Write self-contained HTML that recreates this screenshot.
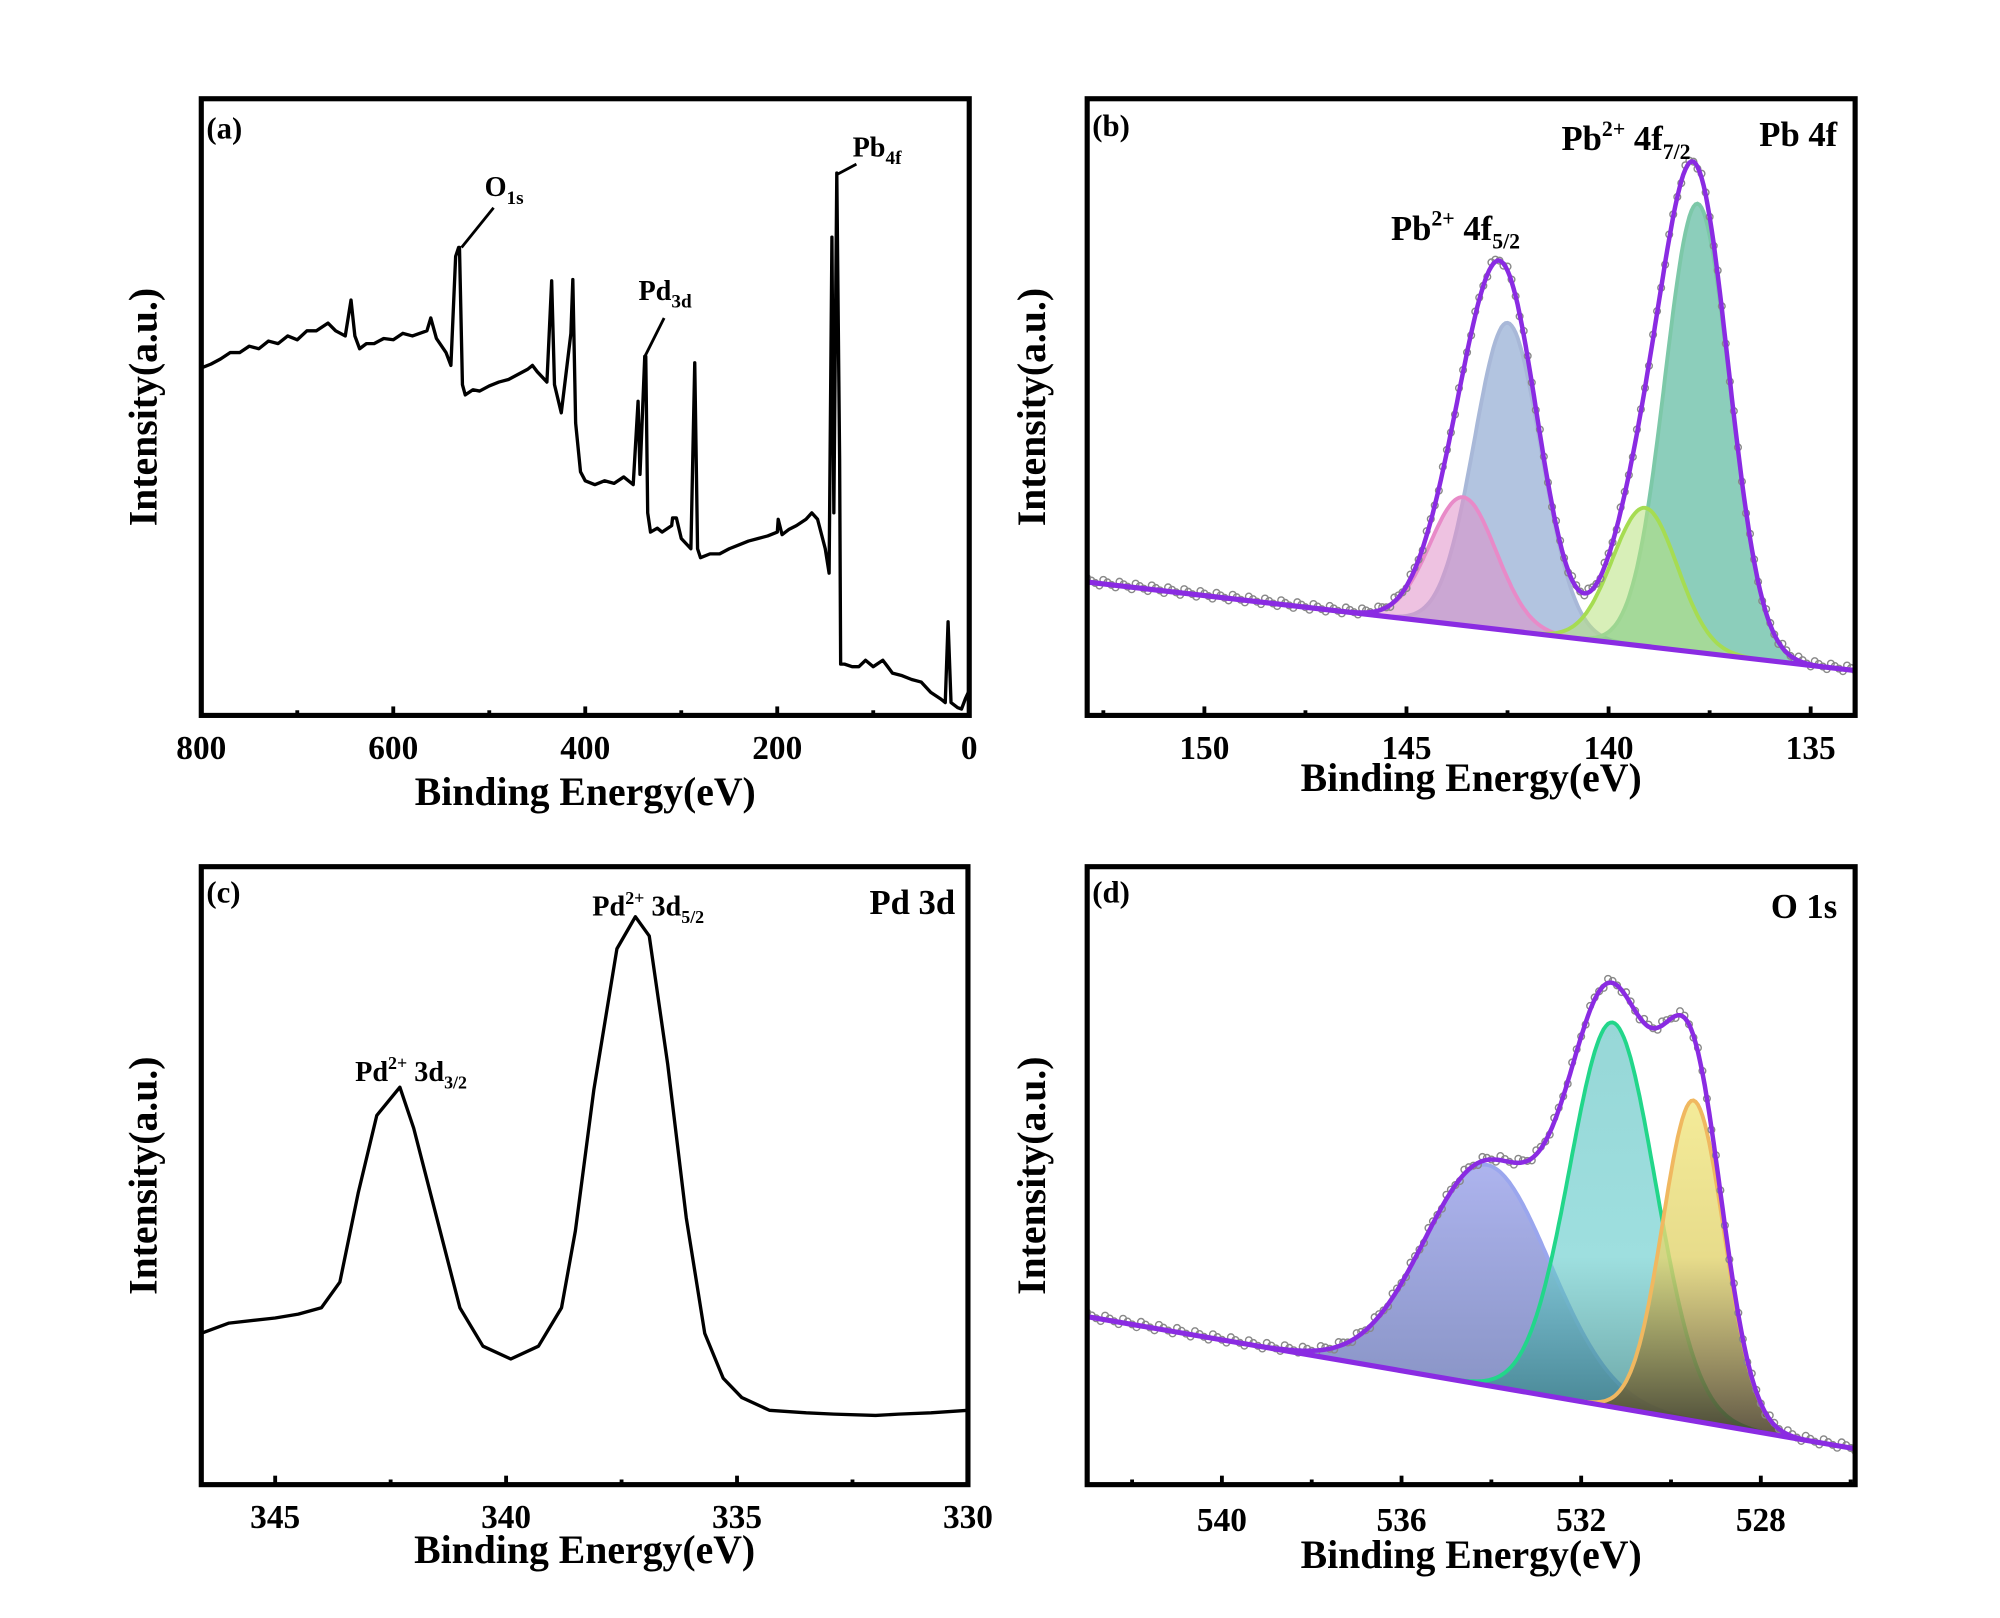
<!DOCTYPE html>
<html><head><meta charset="utf-8"><style>
html,body{margin:0;padding:0;background:#fff}
svg{display:block}
text{font-family:"Liberation Serif",serif;font-weight:bold;fill:#000}
</style></head><body>
<svg id="fig" width="2000" height="1618" viewBox="0 0 1560 1262" xmlns="http://www.w3.org/2000/svg">
<defs>
<linearGradient id="gBlue" x1="0" y1="0" x2="0" y2="1"><stop offset="0" stop-color="#9aa2ea" stop-opacity="0.95"/><stop offset="1" stop-color="#5a6aa8" stop-opacity="0.9"/></linearGradient>
<linearGradient id="gTeal" x1="0" y1="0" x2="0" y2="1"><stop offset="0" stop-color="#66c4c4" stop-opacity="0.85"/><stop offset="0.55" stop-color="#70d0d0" stop-opacity="0.85"/><stop offset="1" stop-color="#1f6f70" stop-opacity="0.9"/></linearGradient>
<linearGradient id="gYel" x1="0" y1="0" x2="0" y2="1"><stop offset="0" stop-color="#f2e888" stop-opacity="0.95"/><stop offset="0.45" stop-color="#e2d470" stop-opacity="0.9"/><stop offset="1" stop-color="#3a3020" stop-opacity="0.95"/></linearGradient>
</defs>
</svg>
<script>
// ---------- panel (a) survey ----------
const surveyE=[800,790,780,770,760,750,740,730,720,710,700,690,680,668,660,650,644,640,635,628,620,610,600,590,580,565,561,555,545,540,535,532,531,528,525,517,510,500,490,480,470,460,455,450,440,435,432,425,415,413,410,405,400,390,380,370,360,350,345,343,338,337,335,332,325,320,310,309,305,300,290,286,283,280,270,260,250,240,230,220,210,200,199,195,188,180,170,164,158,150,146,143,141,138,135,134,130,122,115,108,100,90,85,80,70,60,50,40,30,25,22,19,12,8,4,1];
const surveyI=[271,274,278,283,283,288,286,292,290,296,293,300,300,306,300,296,324,296,286,290,290,294,293,298,296,300,310,294,283,273,358,365,365,258,250,254,253,257,260,262,266,270,273,268,260,339,258,236,298,340,228,190,183,180,183,181,186,180,245,188,280,280,158,143,146,143,148,154,154,138,130,275,130,123,126,126,130,133,136,138,140,143,153,141,145,148,153,158,153,130,111,373,158,423,200,40,40,38,38,43,38,43,38,33,31,28,26,18,13,10,73,10,6,5,13,18];
// ---------- panel (c) Pd 3d ----------
const pdE=[346.6,346,345,344.5,344,343.6,343.2,342.8,342.3,342,341.5,341,340.5,339.9,339.3,338.8,338.5,338.1,337.6,337.2,336.9,336.5,336.1,335.7,335.3,334.9,334.3,333.5,332.9,332,331.5,330.8,330];
const pdI=[118,126,130,133,138,158,228,288,310,278,208,138,108,98,108,138,198,308,418,443,428,328,208,118,83,68,58,56,55,54,55,56,58];
// ---------- panel (b) Pb 4f fit ----------
const pbCenters=[142.5,143.6,137.8,139.1];
const pbHeights=[240,100,350,108];
const pbSigmas=[0.82,0.82,0.8,0.8];
const pbBase=[104,35];
// ---------- panel (d) O 1s fit ----------
const oCenters=[534.1,531.3,529.5];
const oHeights=[172,300,250];
const oSigmas=[1.4,0.95,0.68];
const oBase=[131,28];

const svg=document.getElementById('fig');
const NS='http://www.w3.org/2000/svg';
function mk(tag,attrs,parent){const e=document.createElementNS(NS,tag);for(const k in attrs)e.setAttribute(k,attrs[k]);(parent||svg).appendChild(e);return e;}
function txt(parent,x,y,str,size,anchor){const t=mk('text',{x:x,y:y,'font-size':size,'text-anchor':anchor||'start'},parent);t.innerHTML=str;return t;}

function panel(name,L,T,R,B,E0,E1,major,minor,tickFmt,ytitleX,xtitleY,tickLabelY){
  const g=mk('g',{});
  
  
  const sx=e=>L+(E0-e)/(E0-E1)*(R-L);
  const sy=v=>B-v;
  const clipId='clip-'+name;
  const cp=mk('clipPath',{id:clipId},g);mk('rect',{x:L,y:T,width:R-L,height:B-T},cp);
  const plot=mk('g',{'clip-path':'url(#'+clipId+')'},g);
  
  
  const ax=mk('g',{},g);
  
  
  const lo=Math.min(E0,E1),hi=Math.max(E0,E1);
  for(let v=Math.ceil(lo/minor)*minor;v<=hi+1e-9;v+=minor){
    const isMaj=Math.abs(v/major-Math.round(v/major))<1e-6;
    const x=sx(v);
    mk('line',{x1:x,x2:x,y1:B,y2:B-(isMaj?7:4),stroke:'#000','stroke-width':3},ax);
    if(isMaj){const t=txt(ax,x,tickLabelY,tickFmt(v),26,'middle');
      
      }
  }
  const xt=txt(g,(L+R)/2,xtitleY,'Binding Energy(eV)',31,'middle');
  
  
  const yt=txt(g,0,0,'Intensity(a.u.)',31,'middle');
  yt.setAttribute('transform','translate('+ytitleX+','+((T+B)/2)+') rotate(-90)');
  
  
  return {g,plot,sx,sy,frame:()=>{const f=mk('rect',{x:L,y:T,width:R-L,height:B-T,fill:'none',stroke:'#000','stroke-width':4},g);
    
    }};
}
function linePath(sx,sy,E,I){return E.map((e,i)=>(i?'L':'M')+sx(e).toFixed(1)+','+sy(I[i]).toFixed(1)).join('');}
function gauss(e,c,h,s){return h*Math.exp(-(e-c)*(e-c)/(2*s*s));}

// ===== panel a =====
{
const p=panel('panel-a',157,77,756,558,800,0,200,100,v=>v,122,628,592);
const path=mk('path',{d:linePath(p.sx,p.sy,surveyE,surveyI),fill:'none',stroke:'#000','stroke-width':2.6,'stroke-linejoin':'round'},p.plot);


p.frame();
const ann=[['O<tspan font-size="15" dy="6">1s</tspan>',378,153,[[360,193],[385,162]]],['Pd<tspan font-size="15" dy="6">3d</tspan>',498,234,[[503,278],[518,248]]],['Pb<tspan font-size="15" dy="6">4f</tspan>',665,122,[[653,136],[668,128]]]];
ann.forEach(a=>{const t=txt(p.g,a[1],a[2],a[0],22);
  
  
  const l=mk('line',{x1:a[3][0][0],y1:a[3][0][1],x2:a[3][1][0],y2:a[3][1][1],stroke:'#000','stroke-width':2.2},p.g);
  
  });
const lab=txt(p.g,161,108,'(a)',24);


}
// ===== panel c =====
{
const p=panel('panel-c',157,676,755,1158,346.6,330,5,2.5,v=>v,122,1219,1192);
const path=mk('path',{d:linePath(p.sx,p.sy,pdE,pdI),fill:'none',stroke:'#000','stroke-width':2.6,'stroke-linejoin':'round'},p.plot);


p.frame();
const l1=txt(p.g,462,714,'Pd<tspan font-size="14" dy="-9">2+</tspan><tspan dy="9"> 3d</tspan><tspan font-size="14" dy="6">5/2</tspan>',22);


const l2=txt(p.g,277,843,'Pd<tspan font-size="14" dy="-9">2+</tspan><tspan dy="9"> 3d</tspan><tspan font-size="14" dy="6">3/2</tspan>',22);


const t=txt(p.g,745,713,'Pd 3d',27,'end');


const lab=txt(p.g,161,704,'(c)',24);


}
function fitPanel(p,E0,E1,centers,heights,sigmas,base,styles,env){
  const base_=e=>base[0]+(base[1]-base[0])*(E0-e)/(E0-E1);
  const Es=[];for(let e=E0;e>=E1-1e-9;e-=0.05)Es.push(e);
  centers.forEach((c,k)=>{
    const top=Es.map(e=>[p.sx(e),p.sy(base_(e)+gauss(e,c,heights[k],sigmas[k]))]);
    const bot=Es.map(e=>[p.sx(e),p.sy(base_(e))]).reverse();
    const d='M'+top.map(q=>q[0].toFixed(1)+','+q[1].toFixed(1)).join('L')+'L'+bot.map(q=>q[0].toFixed(1)+','+q[1].toFixed(1)).join('L')+'Z';
    const f=mk('path',{d:d,fill:styles[k][0],'fill-opacity':styles[k][2]},p.plot);
    
    
    const s=mk('path',{d:'M'+top.map(q=>q[0].toFixed(1)+','+q[1].toFixed(1)).join('L'),fill:'none',stroke:styles[k][1],'stroke-width':3},p.plot);
    
    
  });
  const envI=e=>base_(e)+centers.reduce((a,c,k)=>a+gauss(e,c,heights[k],sigmas[k]),0);
  const pts=mk('g',{},p.plot);
  
  
  for(let i=0;i<Es.length;i+=2){const e=Es[i];mk('circle',{cx:p.sx(e).toFixed(1),cy:(p.sy(envI(e))+(i%8-4)*0.8).toFixed(1),r:2.6,fill:'none',stroke:'#888','stroke-width':1.1},pts);}
  const bl=mk('line',{x1:p.sx(E0),y1:p.sy(base[0]),x2:p.sx(E1),y2:p.sy(base[1]),stroke:env,'stroke-width':4},p.plot);
  
  
  const ep=mk('path',{d:'M'+Es.map(e=>p.sx(e).toFixed(1)+','+p.sy(envI(e)).toFixed(1)).join('L'),fill:'none',stroke:env,'stroke-width':3.5},p.plot);
  
  
}
// ===== panel b =====
{
const p=panel('panel-b',848,77,1447,558,152.9,133.9,5,2.5,v=>v,815,617,592);
fitPanel(p,152.9,133.9,pbCenters,pbHeights,pbSigmas,pbBase,
 [['#7f9ccc','#a8b8d8',0.6],['#e090c8','#e88ac8',0.55],['#3fae8e','#7cc8a8',0.6],['#b8e27e','#a6dc52',0.55]],'#8a2be2');
p.frame();
const l1=txt(p.g,1218,117,'Pb<tspan font-size="17" dy="-11">2+</tspan><tspan dy="11"> 4f</tspan><tspan font-size="17" dy="7">7/2</tspan>',27);


const l2=txt(p.g,1085,187,'Pb<tspan font-size="17" dy="-11">2+</tspan><tspan dy="11"> 4f</tspan><tspan font-size="17" dy="7">5/2</tspan>',27);


const t=txt(p.g,1433,114,'Pb 4f',27,'end');


const lab=txt(p.g,852,106,'(b)',24);


}
// ===== panel d =====
{
const p=panel('panel-d',848,676,1447,1158,543,525.9,4,2,v=>v,815,1223,1194);
fitPanel(p,543,525.9,oCenters,oHeights,oSigmas,oBase,
 [['url(#gBlue)','#9aa6ee',0.85],['url(#gTeal)','#22d68a',0.8],['url(#gYel)','#f0b860',0.9]],'#8a2be2');
p.frame();
const t=txt(p.g,1433,716,'O 1s',27,'end');


const lab=txt(p.g,852,704,'(d)',24);


}
</script>
</body></html>
